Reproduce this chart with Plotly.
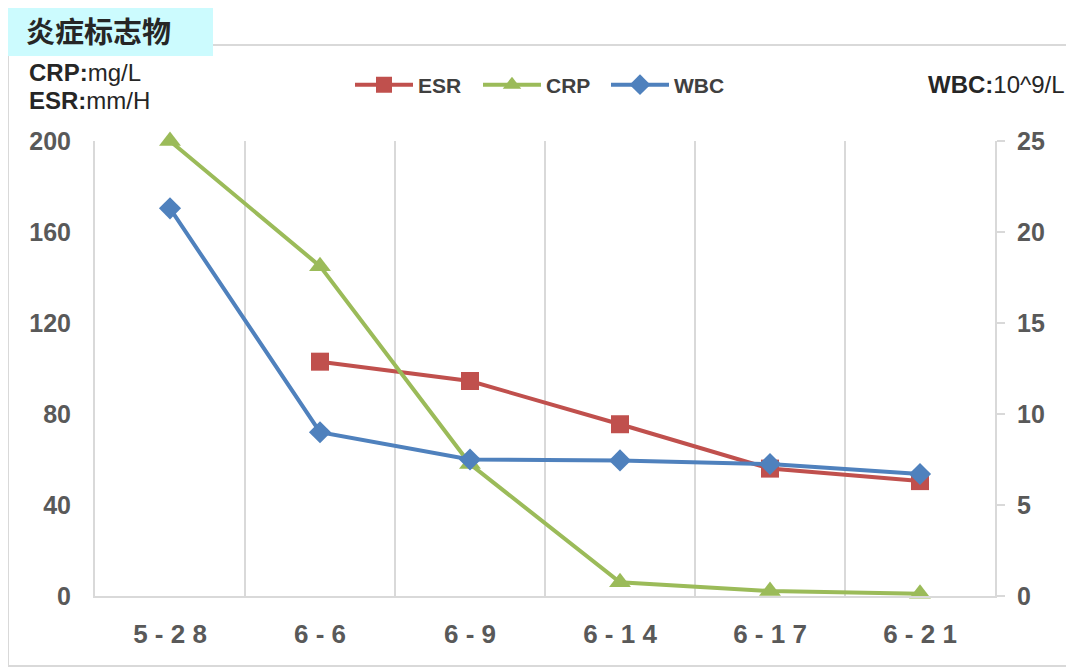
import plotly.graph_objects as go

dates = ["5-28", "6-6", "6-9", "6-14", "6-17", "6-21"]
esr = [None, 103, 94.5, 75.5, 56, 50.5]
crp = [200, 145, 58, 6, 2.2, 1]
wbc = [21.3, 9.0, 7.5, 7.45, 7.25, 6.7]
left_ticks = [0, 40, 80, 120, 160, 200]
right_ticks = [0, 5, 10, 15, 20, 25]

# page offset from the default 8px body margin
O = 8
W, H = 1074 - O, 671 - O
L, R, T, B = 95, 995, 141, 596   # plot area in page pixels


def px(x):
    return (x - L) / (R - L)


def py(y):
    return (B - y) / (B - T)


FONT = "Liberation Sans, Arial, sans-serif"
GRID = "#D9D9D9"
TICKC = "#595959"

fig = go.Figure()
fig.add_trace(go.Scatter(
    x=dates, y=esr, name="ESR", mode="lines+markers", cliponaxis=False,
    line=dict(color="#C0504D", width=4),
    marker=dict(symbol="square", size=18, color="#C0504D"),
))
fig.add_trace(go.Scatter(
    x=dates, y=crp, name="CRP", mode="lines+markers", cliponaxis=False,
    line=dict(color="#9BBB59", width=4),
    marker=dict(symbol="triangle-up", size=19, color="#9BBB59"),
))
fig.add_trace(go.Scatter(
    x=dates, y=wbc, name="WBC", mode="lines+markers", yaxis="y2", cliponaxis=False,
    line=dict(color="#4F81BD", width=4),
    marker=dict(symbol="diamond", size=17, color="#4F81BD"),
))

fig.update_layout(
    width=W, height=H,
    margin=dict(l=L - O, r=W - (R - O), t=T - O, b=H - (B - O)),
    paper_bgcolor="white", plot_bgcolor="white",
    font=dict(family=FONT, color=TICKC),
    xaxis=dict(
        type="category", tickson="boundaries", showgrid=True, gridcolor=GRID, gridwidth=2,
        tickvals=dates, ticktext=[" ".join(d) for d in dates],
        tickfont=dict(size=26, color=TICKC, family=FONT, weight="bold"),
        ticks="", ticklabelstandoff=14,
        showline=True, linecolor=GRID, linewidth=2,
        range=[-0.5, 5.5], zeroline=False,
    ),
    yaxis=dict(
        range=[0, 200], tickvals=left_ticks, showgrid=False, zeroline=False,
        tickfont=dict(size=25, color=TICKC, family=FONT, weight="bold"),
        showline=True, linecolor=GRID, linewidth=2, ticks="", ticklabelstandoff=17,
    ),
    yaxis2=dict(
        range=[0, 25], tickvals=right_ticks, overlaying="y", side="right",
        showgrid=False, zeroline=False,
        tickfont=dict(size=25, color=TICKC, family=FONT, weight="bold"),
        showline=True, linecolor=GRID, linewidth=2,
        ticks="outside", ticklen=8, tickcolor=GRID, tickwidth=2, ticklabelstandoff=7,
    ),
    legend=dict(
        orientation="h", x=px(350), y=py(85), xanchor="left", yanchor="middle",
        font=dict(size=21, color="#404040", family=FONT, weight="bold"),
        entrywidth=55, entrywidthmode="pixels", bgcolor="rgba(0,0,0,0)",
        itemwidth=58,
    ),
    showlegend=True,
)

# outer frame
fig.add_shape(type="rect", xref="paper", yref="paper",
              x0=px(8), x1=px(1068), y0=py(666), y1=py(45),
              line=dict(color="#D9D9D9", width=2), fillcolor="rgba(0,0,0,0)", layer="below")
# title box
fig.add_shape(type="rect", xref="paper", yref="paper",
              x0=px(8), x1=px(213), y0=py(56), y1=py(0),
              line=dict(width=0), fillcolor="#CCFBFE", layer="below")

fig.add_annotation(text="<b>炎症标志物</b>", xref="paper", yref="paper",
                   x=px(24), y=py(30), xanchor="left", yanchor="middle", showarrow=False,
                   font=dict(size=29, color="#262626", family="Noto Sans CJK SC"))
fig.add_annotation(text="<b>CRP:</b>mg/L", xref="paper", yref="paper",
                   x=px(27), y=py(72), xanchor="left", yanchor="middle", showarrow=False,
                   font=dict(size=24, color="#262626", family=FONT))
fig.add_annotation(text="<b>ESR:</b>mm/H", xref="paper", yref="paper",
                   x=px(27), y=py(100), xanchor="left", yanchor="middle", showarrow=False,
                   font=dict(size=24, color="#262626", family=FONT))
fig.add_annotation(text="<b>WBC:</b>10^9/L", xref="paper", yref="paper",
                   x=px(926), y=py(84), xanchor="left", yanchor="middle", showarrow=False,
                   font=dict(size=24, color="#262626", family=FONT))

fig.write_html("out.html")
